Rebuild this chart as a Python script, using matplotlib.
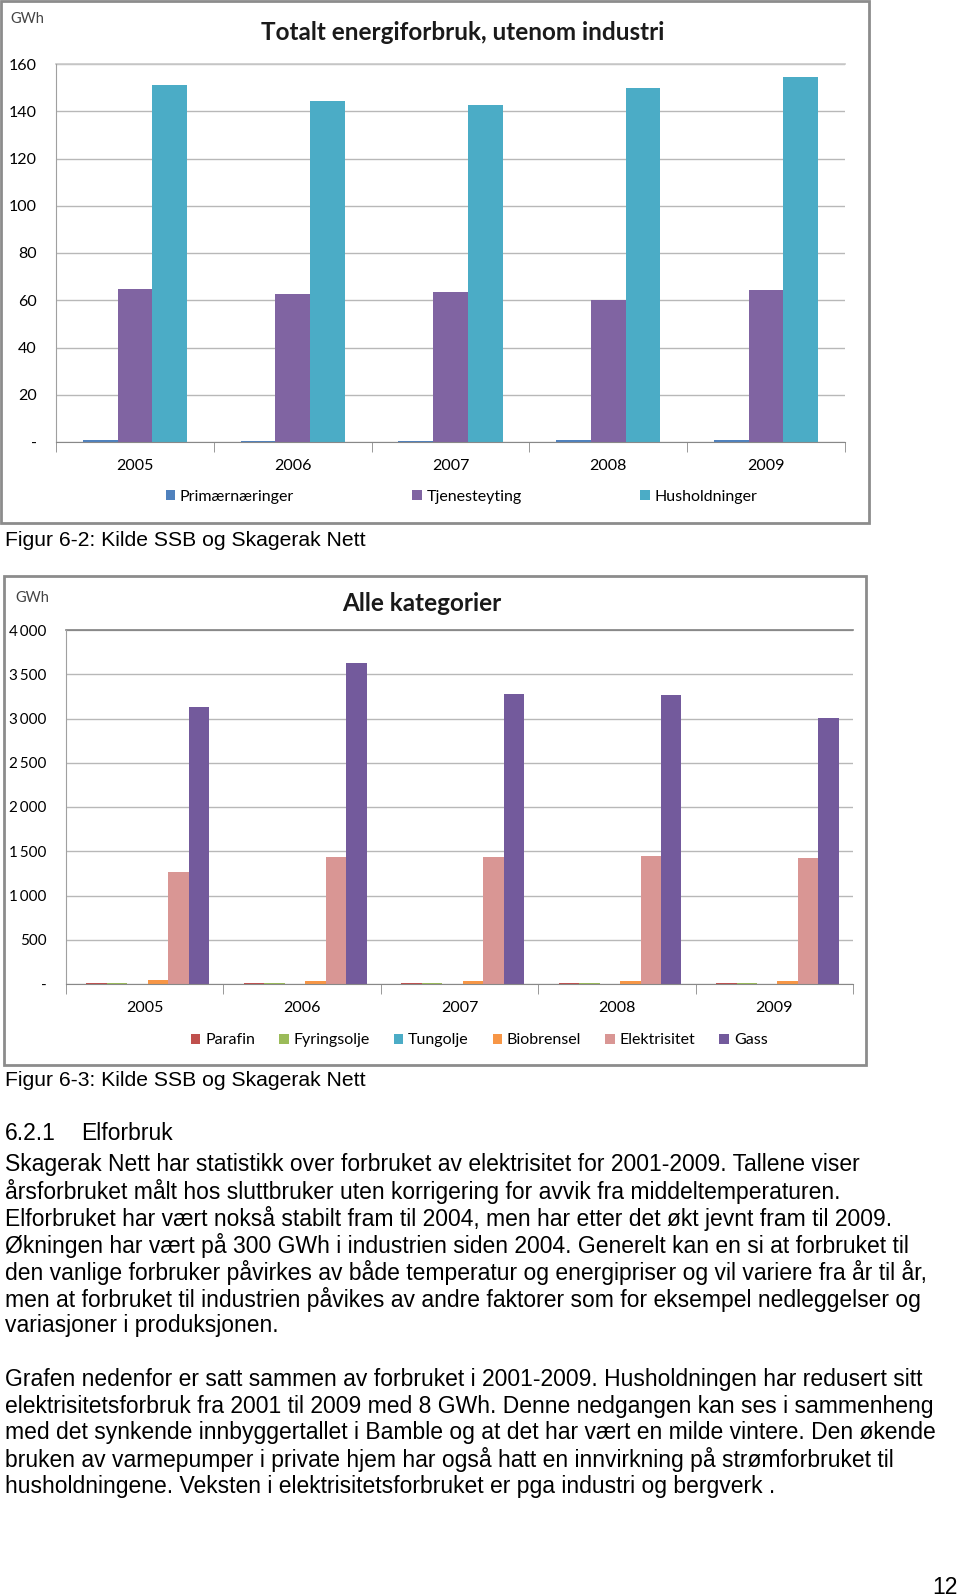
import numpy as np
import matplotlib.pyplot as plt
from matplotlib.patches import Rectangle
from matplotlib.ticker import FuncFormatter

# Data
aar = ['2005', '2006', '2007', '2008', '2009']

# Figur 6-2: Totalt energiforbruk, utenom industri (GWh)
primaer = [0.8, 0.5, 0.5, 1.0, 0.7]
tjeneste = [64.7, 62.5, 63.4, 59.9, 64.2]
hushold = [150.9, 144.4, 142.7, 150.0, 154.3]

# Figur 6-3: Alle kategorier (GWh)
parafin = [10, 8, 8, 8, 8]
fyringsolje = [8, 6, 6, 6, 6]
tungolje = [4, 5, 5, 2, 2]
biobrensel = [40, 35, 33, 32, 33]
elektrisitet = [1264, 1437, 1437, 1448, 1425]
gass = [3126, 3632, 3276, 3264, 3011]

W, H = 960, 1596
fig = plt.figure(figsize=(W / 100, H / 100), dpi=100)
fig.patch.set_facecolor('white')

chartfont = 'Lato'
textfont = 'Liberation Sans'


def rect(x0, y0, x1, y1):
    # pixel box (top-left origin) -> figure fraction
    return [x0 / W, 1 - y1 / H, (x1 - x0) / W, (y1 - y0) / H]


def txt(x, y, s, **kw):
    fig.text(x / W, 1 - y / H, s, **kw)


def fmt(v, pos):
    if v == 0:
        return '-'
    return '{:,.0f}'.format(v).replace(',', '\u2009')


def style_axes(ax, ymax, step, topcolor, ypad, ysize):
    ax.set_xlim(-0.5, 4.5)
    ax.set_ylim(0, ymax)
    ax.set_yticks(np.arange(0, ymax + 1, step))
    ax.yaxis.set_major_formatter(FuncFormatter(fmt))
    ax.set_xticks(range(5))
    ax.set_xticklabels(aar, fontsize=11.5, family=chartfont)
    ax.set_xticks(np.arange(-0.5, 5, 1), minor=True)
    ax.tick_params(axis='x', which='major', length=0, pad=12)
    ax.tick_params(axis='x', which='minor', length=7, color='#888888', direction='out')
    ax.tick_params(axis='y', length=0, pad=ypad, labelsize=ysize)
    for lab in ax.get_yticklabels():
        lab.set_family(chartfont)
    ax.grid(axis='y', color='#b8b8b8', lw=1)
    ax.set_axisbelow(True)
    for s in ['top', 'right']:
        ax.spines[s].set_visible(False)
    ax.spines['left'].set_color('#a0a0a0')
    ax.spines['bottom'].set_color('#888888')
    ax.axhline(ymax, color=topcolor, lw=1.2, clip_on=False)


# ---- Figur 6-2 ----
fig.add_artist(Rectangle((1 / W, 1 - 523 / H), 868 / W, 522 / H, transform=fig.transFigure,
                         fill=False, edgecolor='#8c8c8c', lw=2))
ax1 = fig.add_axes(rect(56, 64, 845, 442))
x = np.arange(5)
bw = 0.22
ax1.bar(x - bw, primaer, bw, color='#4F81BD', label='Primærnæringer')
ax1.bar(x, tjeneste, bw, color='#8064A2', label='Tjenesteyting')
ax1.bar(x + bw, hushold, bw, color='#4BACC6', label='Husholdninger')
style_axes(ax1, 160, 20, '#c8c8c8', 14, 11.5)
ax1.legend(loc='center', bbox_to_anchor=(0.514, -0.145), ncol=3, frameon=False,
           prop={'family': chartfont, 'size': 11.5}, handlelength=0.6, handleheight=0.6,
           handletextpad=0.3, columnspacing=7.4)
txt(463, 32, 'Totalt energiforbruk, utenom industri', ha='center', va='center',
    fontsize=17.5, fontweight='bold', family=chartfont, color='#1a1a1a')
txt(10, 19, 'GWh', ha='left', va='center', fontsize=10.5, family=chartfont, color='#444444')

txt(5, 540, 'Figur 6-2: Kilde SSB og Skagerak Nett', ha='left', va='center',
    fontsize=15.2, family=textfont)

# ---- Figur 6-3 ----
fig.add_artist(Rectangle((4 / W, 1 - 1065 / H), 862 / W, 489 / H, transform=fig.transFigure,
                         fill=False, edgecolor='#8c8c8c', lw=2))
ax2 = fig.add_axes(rect(66, 630, 853, 984))
bw2 = 0.13
serier = [(parafin, '#C0504D', 'Parafin'),
          (fyringsolje, '#9BBB59', 'Fyringsolje'),
          (tungolje, '#4BACC6', 'Tungolje'),
          (biobrensel, '#F79646', 'Biobrensel'),
          (elektrisitet, '#D99694', 'Elektrisitet'),
          (gass, '#735A9C', 'Gass')]
for i, (v, c, n) in enumerate(serier):
    ax2.bar(x + (i - 2.5) * bw2 + 0.02, v, bw2, color=c, label=n)
style_axes(ax2, 4000, 500, '#808080', 14, 11)
ax2.legend(loc='center', bbox_to_anchor=(0.525, -0.159), ncol=6, frameon=False,
           prop={'family': chartfont, 'size': 11.5}, handlelength=0.6, handleheight=0.6,
           handletextpad=0.3, columnspacing=1.5)
txt(422, 603, 'Alle kategorier', ha='center', va='center',
    fontsize=17.5, fontweight='bold', family=chartfont, color='#1a1a1a')
txt(15, 598, 'GWh', ha='left', va='center', fontsize=10.5, family=chartfont, color='#444444')

txt(5, 1081, 'Figur 6-3: Kilde SSB og Skagerak Nett', ha='left', va='center',
    fontsize=15.2, family=textfont)

# ---- Brødtekst ----
txt(5, 1134, '6.2.1', ha='left', va='center', fontsize=16.5, family=textfont)
txt(81, 1134, 'Elforbruk', ha='left', va='center', fontsize=16.5, family=textfont)

linjer = [
    'Skagerak Nett har statistikk over forbruket av elektrisitet for 2001-2009. Tallene viser',
    'årsforbruket målt hos sluttbruker uten korrigering for avvik fra middeltemperaturen.',
    'Elforbruket har vært nokså stabilt fram til 2004, men har etter det økt jevnt fram til 2009.',
    'Økningen har vært på 300 GWh i industrien siden 2004. Generelt kan en si at forbruket til',
    'den vanlige forbruker påvirkes av både temperatur og energipriser og vil variere fra år til år,',
    'men at forbruket til industrien påvikes av andre faktorer som for eksempel nedleggelser og',
    'variasjoner i produksjonen.',
    '',
    'Grafen nedenfor er satt sammen av forbruket i 2001-2009. Husholdningen har redusert sitt',
    'elektrisitetsforbruk fra 2001 til 2009 med 8 GWh. Denne nedgangen kan ses i sammenheng',
    'med det synkende innbyggertallet i Bamble og at det har vært en milde vintere. Den økende',
    'bruken av varmepumper i private hjem har også hatt en innvirkning på strømforbruket til',
    'husholdningene. Veksten i elektrisitetsforbruket er pga industri og bergverk .',
]
y0 = 1165
for i, l in enumerate(linjer):
    if l:
        txt(5, y0 + i * 26.8, l, ha='left', va='center', fontsize=16.5, family=textfont)

txt(958, 1587, '12', ha='right', va='center', fontsize=16.5, family=textfont)

fig.savefig('out.png', dpi=100, facecolor='white')
